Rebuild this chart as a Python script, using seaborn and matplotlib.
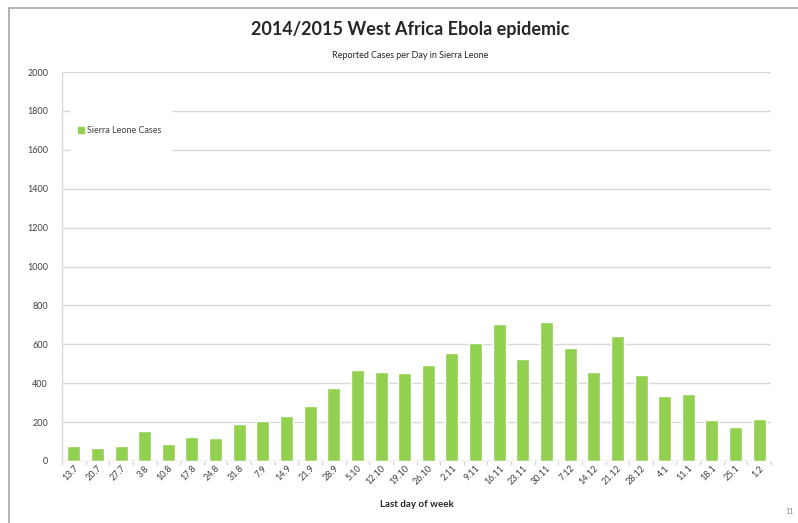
import matplotlib
matplotlib.use("Agg")
import matplotlib.pyplot as plt
import seaborn as sns
import pandas as pd
from matplotlib.lines import Line2D
from matplotlib.patches import Rectangle

weeks = ["13.7", "20.7", "27.7", "3.8", "10.8", "17.8", "24.8", "31.8", "7.9", "14.9",
         "21.9", "28.9", "5.10", "12.10", "19.10", "26.10", "2.11", "9.11", "16.11", "23.11",
         "30.11", "7.12", "14.12", "21.12", "28.12", "4.1", "11.1", "18.1", "25.1", "1.2"]
cases = [78, 66, 75, 155, 88, 124, 117, 190, 205, 232,
         285, 376, 470, 460, 451, 496, 554, 607, 705, 525,
         713, 583, 456, 645, 441, 333, 345, 213, 173, 216]
yticks = list(range(0, 2001, 200))

df = pd.DataFrame({"week": weeks, "cases": cases})

sns.set_theme(style="white")
plt.rcParams["font.family"] = ["Lato", "DejaVu Sans"]

green = "#92D050"
grid = "#D9D9D9"

fig = plt.figure(figsize=(7.98, 5.23), dpi=100)
ax = fig.add_axes([62 / 798, 1 - 461 / 523, (771 - 62) / 798, (461 - 72) / 523])

sns.barplot(data=df, x="week", y="cases", color=green, saturation=1, width=0.55, ax=ax)

ax.set_ylim(0, 2000)
ax.set_xlim(-0.5, len(weeks) - 0.5)
ax.set_yticks(yticks)
ax.set_yticklabels([str(v) for v in yticks], fontsize=6.5, color="#404040")
ax.yaxis.grid(True, color=grid, linewidth=1)
ax.set_axisbelow(True)
for s in ["top", "right", "bottom"]:
    ax.spines[s].set_visible(False)
ax.spines["left"].set_color(grid)
ax.spines["left"].set_linewidth(1)
ax.tick_params(axis="y", length=0, pad=10)
ax.tick_params(axis="x", length=0, pad=2)
ax.set_xticks(range(len(weeks)))
ax.set_xticklabels(weeks, rotation=45, ha="right", rotation_mode="anchor", fontsize=6.5, color="#404040")
ax.set_xticks([i - 0.5 for i in range(len(weeks) + 1)], minor=True)
ax.tick_params(axis="x", which="minor", length=3, color=grid, bottom=True)
ax.axhline(0, color=grid, linewidth=1)

ax.set_ylabel("")
ax.set_xlabel("Last day of week", fontsize=7, fontweight="bold", color="#262626", labelpad=10)

# white legend background area hiding gridlines
ax.add_patch(Rectangle((0.0113, 0.787), 0.144, 0.128, transform=ax.transAxes,
                       facecolor="white", edgecolor="none", zorder=1))
handle = Line2D([], [], marker="s", color=green, linestyle="none", markersize=4)
leg = ax.legend([handle], ["Sierra Leone Cases"], loc="center left", bbox_to_anchor=(0.012, 0.85),
                fontsize=6.5, frameon=False, handletextpad=0.2, borderpad=0.3, handlelength=0.8)
for t in leg.get_texts():
    t.set_color("#404040")

fig.text(410 / 798, 1 - 30 / 523, "2014/2015 West Africa Ebola epidemic", ha="center", va="center",
         fontsize=13, fontweight="bold", color="#262626")
fig.text(410 / 798, 1 - 56 / 523, "Reported Cases per Day in Sierra Leone", ha="center", va="center",
         fontsize=6.5, color="#262626")
fig.text(790 / 798, 1 - 511 / 523, "11", ha="center", va="center", fontsize=5, color="#808080")

fig.add_artist(Line2D([9 / 798, 9 / 798], [0, 1 - 8 / 523], transform=fig.transFigure, color="#A6A6A6", linewidth=1.2))
fig.add_artist(Line2D([9 / 798, 1], [1 - 8 / 523, 1 - 8 / 523], transform=fig.transFigure, color="#A6A6A6", linewidth=1.2))

fig.savefig("out.png", dpi=100)
